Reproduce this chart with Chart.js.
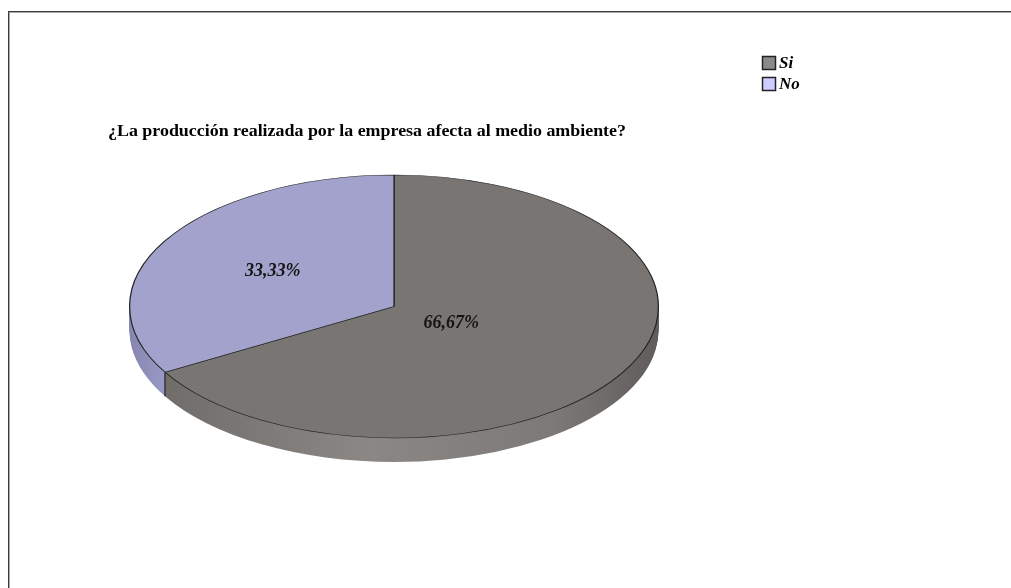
<!DOCTYPE html>
<html>
<head>
<meta charset="utf-8">
<script src="https://cdn.jsdelivr.net/npm/chart.js@4"></script>
<style>
  html, body { margin: 0; background: #fff; }
  #wrap { width: 1011px; height: 588px; }
</style>
</head>
<body>
<div id="wrap"><canvas id="myChart"></canvas></div>
<script>
var chartTitle = '¿La producción realizada por la empresa afecta al medio ambiente?';
var labels = ['Si', 'No'];
var values = [66.67, 33.33];
var valueLabels = ['66,67%', '33,33%'];

var topColors = ['#797573', '#a2a2cc'];
var legendColors = ['#8d8989', '#ccccff'];

// 3d look: squash the pie into an ellipse and add a side wall
var tilt = 131.5 / 264.5;
var faceY = 306.5;
var depth = 24;
var labelDist = [0.25, 0.53];

function sideFill(ctx, i) {
  var g = ctx.createLinearGradient(129, 0, 659, 0);
  if (i === 0) {
    g.addColorStop(0, '#6c6866');
    g.addColorStop(0.45, '#8b8785');
    g.addColorStop(0.8, '#7d7977');
    g.addColorStop(1, '#5f5c5b');
  } else {
    g.addColorStop(0, '#8585b0');
    g.addColorStop(0.07, '#9a9ac6');
    g.addColorStop(1, '#9a9ac6');
  }
  return g;
}

function wedge(ctx, a) {
  ctx.beginPath();
  ctx.moveTo(a.x, a.y);
  ctx.arc(a.x, a.y, a.outerRadius, a.startAngle, a.endAngle);
  ctx.closePath();
}

var pie3d = {
  id: 'pie3d',
  beforeDraw: function(chart) {
    var ctx = chart.ctx;
    ctx.save();
    ctx.fillStyle = '#3c3c3c';
    ctx.fillRect(8, 11, chart.width, 1);
    ctx.fillRect(8, 11, 1, chart.height);
    ctx.fillStyle = '#a8a8a8';
    ctx.fillRect(9, 12, chart.width, 1);
    ctx.fillRect(9, 12, 1, chart.height);
    ctx.restore();
  },
  beforeDatasetsDraw: function(chart) {
    var ctx = chart.ctx;
    var arcs = chart.getDatasetMeta(0).data;
    var cy = arcs[0].y;
    for (var d = depth; d > 0; d--) {
      ctx.save();
      ctx.translate(0, faceY + d);
      ctx.scale(1, tilt);
      ctx.translate(0, -cy);
      arcs.forEach(function(a, i) {
        wedge(ctx, a);
        ctx.fillStyle = sideFill(ctx, i);
        ctx.fill();
      });
      ctx.restore();
    }
    ctx.save();
    ctx.translate(0, faceY);
    ctx.scale(1, tilt);
    ctx.translate(0, -cy);
  },
  afterDatasetsDraw: function(chart) {
    var ctx = chart.ctx;
    ctx.restore();
    var arcs = chart.getDatasetMeta(0).data;

    // seam on the front wall where the slices meet
    var a = arcs[1];
    var sx = a.x + Math.cos(a.startAngle) * a.outerRadius;
    var sy = faceY + Math.sin(a.startAngle) * a.outerRadius * tilt;
    ctx.save();
    ctx.strokeStyle = '#222';
    ctx.lineWidth = 1.3;
    ctx.beginPath();
    ctx.moveTo(sx, sy);
    ctx.lineTo(sx, sy + depth);
    ctx.stroke();

    // value labels
    ctx.font = 'bold italic 18px "Liberation Serif"';
    ctx.fillStyle = '#141414';
    ctx.textAlign = 'center';
    ctx.textBaseline = 'middle';
    arcs.forEach(function(el, i) {
      var mid = (el.startAngle + el.endAngle) / 2;
      var r = el.outerRadius * labelDist[i];
      ctx.fillText(valueLabels[i], el.x + Math.cos(mid) * r, faceY + Math.sin(mid) * r * tilt);
    });

    // title
    ctx.font = 'bold 16px "Liberation Serif"';
    ctx.fillStyle = '#000';
    ctx.textAlign = 'left';
    ctx.textBaseline = 'alphabetic';
    var w = ctx.measureText(chartTitle).width;
    ctx.save();
    ctx.translate(108, 136);
    ctx.scale(518 / w, 1);
    ctx.fillText(chartTitle, 0, 0);
    ctx.restore();

    // legend
    ctx.font = 'bold italic 17px "Liberation Serif"';
    labels.forEach(function(lab, i) {
      var y = 56 + i * 21;
      ctx.fillStyle = legendColors[i];
      ctx.fillRect(762, y, 14, 14);
      ctx.strokeStyle = '#222';
      ctx.lineWidth = 1.5;
      ctx.strokeRect(762.5, y + 0.5, 13, 13);
      ctx.fillStyle = '#000';
      ctx.fillText(lab, 779, y + 12);
    });
    ctx.restore();
  }
};

var ctx = document.getElementById('myChart').getContext('2d');
var chart = new Chart(ctx, {
  type: 'pie',
  data: {
    labels: labels,
    datasets: [{
      data: values,
      backgroundColor: topColors,
      borderColor: '#222222',
      borderWidth: 1.2
    }]
  },
  options: {
    responsive: true,
    maintainAspectRatio: false,
    animation: false,
    layout: { padding: { left: 129, right: 352, top: 29, bottom: 29 } },
    plugins: {
      legend: { display: false },
      tooltip: { enabled: false }
    }
  },
  plugins: [pie3d]
});
</script>
</body>
</html>
